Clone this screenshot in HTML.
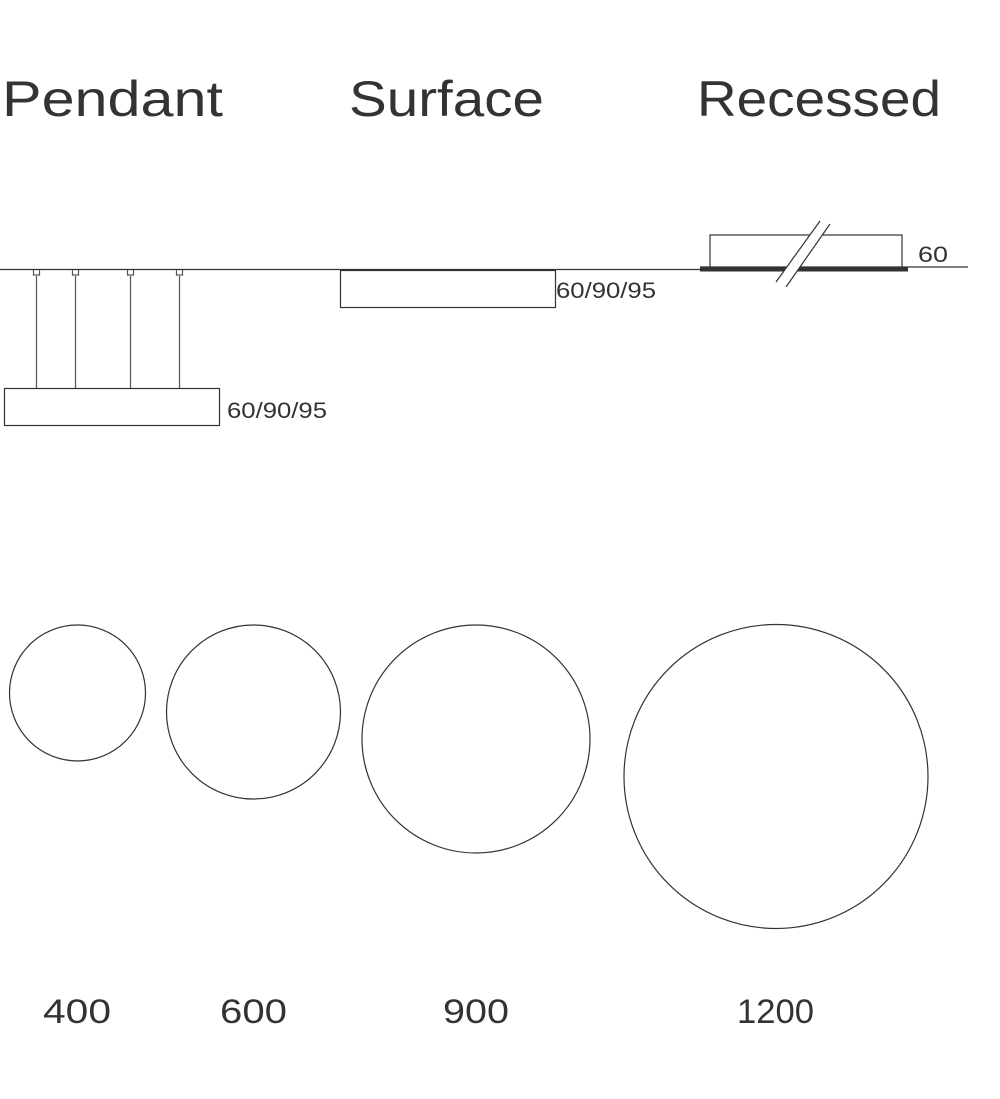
<!DOCTYPE html>
<html><head><style>
html,body{margin:0;padding:0;background:#fff;}
svg{display:block;}
text{font-family:"Liberation Sans",sans-serif;fill:#333;}
</style></head><body>
<svg width="1000" height="1099" viewBox="0 0 1000 1099" xmlns="http://www.w3.org/2000/svg">
<g font-size="50">
<text x="2" y="116" textLength="221" lengthAdjust="spacingAndGlyphs">Pendant</text>
<text x="349" y="116" textLength="195" lengthAdjust="spacingAndGlyphs">Surface</text>
<text x="697" y="116" textLength="244" lengthAdjust="spacingAndGlyphs">Recessed</text>
</g>
<g stroke="#333" fill="none" stroke-width="1.2">
<line x1="0" y1="269.5" x2="700" y2="269.5"/>
<line x1="700" y1="267" x2="968" y2="267"/>
<g stroke="#555">
<line x1="36.5" y1="276" x2="36.5" y2="388"/>
<line x1="75.5" y1="276" x2="75.5" y2="388"/>
<line x1="130.5" y1="276" x2="130.5" y2="388"/>
<line x1="179.5" y1="276" x2="179.5" y2="388"/>
<path d="M33.5 270v5h6v-5M72.5 270v5h6v-5M127.5 270v5h6v-5M176.5 270v5h6v-5"/>
</g>
<rect x="4.5" y="388.5" width="215" height="37"/>
<rect x="340.5" y="270.5" width="215" height="37"/>
<rect x="710" y="235" width="192" height="33"/>
</g>
<rect x="700" y="266.5" width="208" height="5" fill="#333"/>
<polygon points="776,282 820,221 830,224 786,287" fill="#fff"/>
<g stroke="#333" stroke-width="1.2">
<line x1="776" y1="282" x2="820" y2="221"/>
<line x1="786" y1="287" x2="830" y2="224"/>
</g>
<g font-size="22">
<text x="227" y="418" textLength="100" lengthAdjust="spacingAndGlyphs">60/90/95</text>
<text x="556" y="298" textLength="100" lengthAdjust="spacingAndGlyphs">60/90/95</text>
<text x="918" y="262" textLength="30" lengthAdjust="spacingAndGlyphs">60</text>
</g>
<g stroke="#333" fill="none" stroke-width="1.2">
<circle cx="77.5" cy="693" r="68"/>
<circle cx="253.5" cy="712" r="87"/>
<circle cx="476" cy="739" r="114"/>
<circle cx="776" cy="776.5" r="152"/>
</g>
<g font-size="34">
<text x="43" y="1023" textLength="68" lengthAdjust="spacingAndGlyphs">400</text>
<text x="220" y="1023" textLength="67" lengthAdjust="spacingAndGlyphs">600</text>
<text x="443" y="1023" textLength="66" lengthAdjust="spacingAndGlyphs">900</text>
<text x="737" y="1023" textLength="77" lengthAdjust="spacingAndGlyphs">1200</text>
</g>
</svg>
</body></html>
